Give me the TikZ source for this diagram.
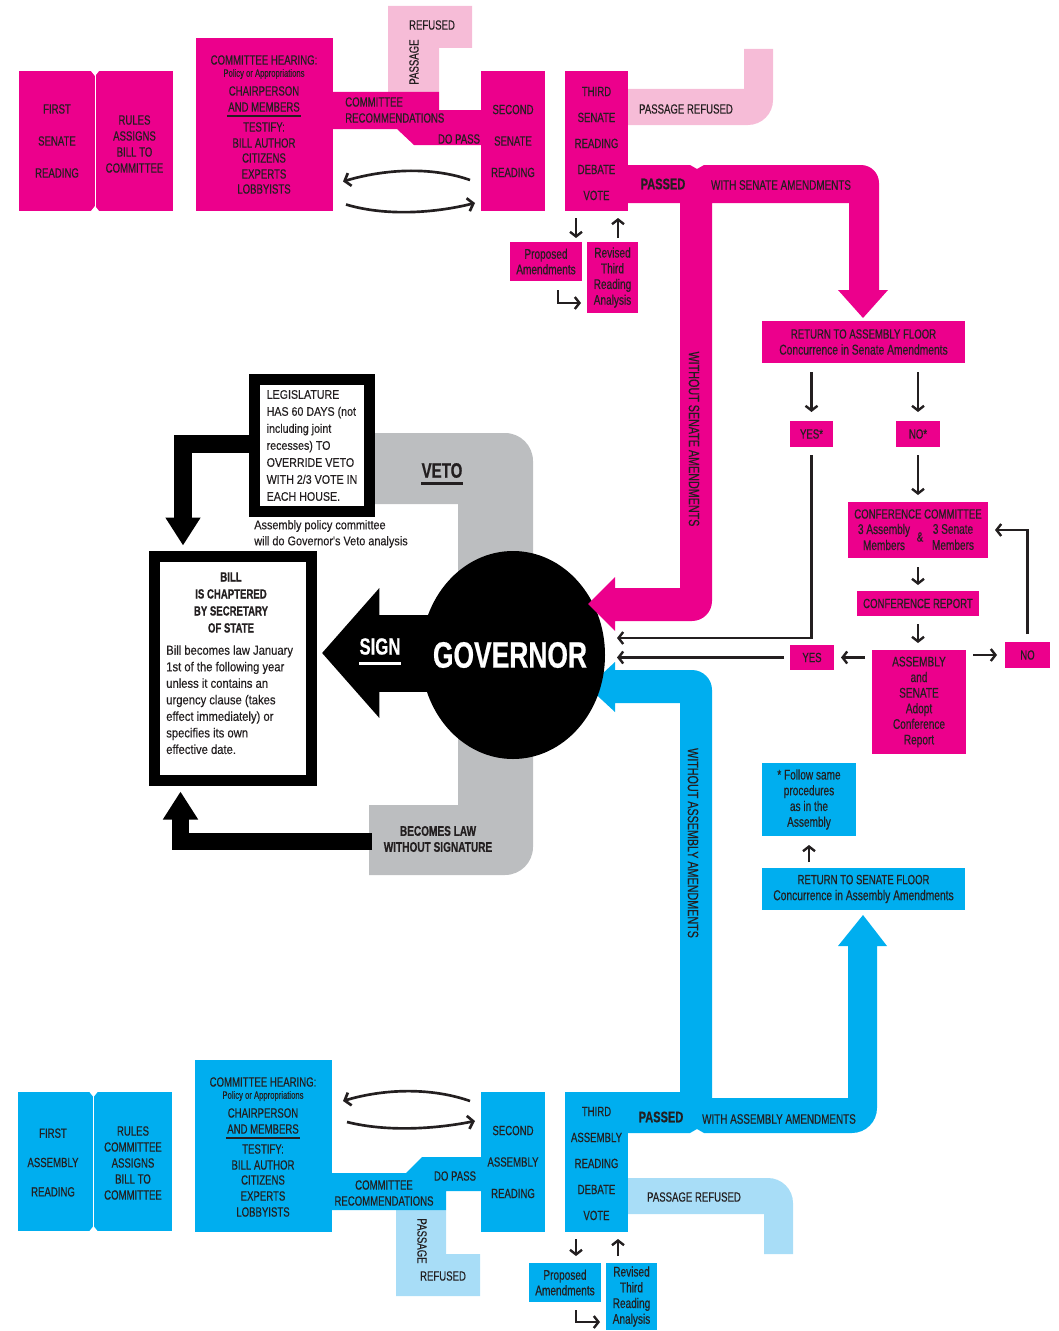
\documentclass[tikz,border=0pt]{standalone}
\usepackage{fontspec}
\setmainfont{Liberation Sans}[FakeStretch=0.72, UprightFeatures={FakeBold=0.35}, BoldFeatures={FakeBold=0.6}]
\newfontfamily\cw{Liberation Sans}[FakeStretch=0.86, UprightFeatures={FakeBold=0.3}]
\usetikzlibrary{arrows.meta,calc,shapes.geometric}
\definecolor{mag}{HTML}{EC008C}
\definecolor{lpink}{HTML}{F6BCD7}
\definecolor{cya}{HTML}{00AEEF}
\definecolor{lblue}{HTML}{A8DDF7}
\definecolor{vgray}{HTML}{BCBEC0}
\definecolor{ink}{HTML}{231F20}
\newcommand\fz[2]{\fontsize{#1}{#2}\selectfont}
\pgfdeclarelayer{bg}
\pgfsetlayers{bg,main}
\tikzset{
  box/.style={inner sep=0pt, outer sep=0pt, align=center, text=ink, font=\fz{10}{12}},
  mb/.style={box, fill=mag},
  cb/.style={box, fill=cya},
  sz/.style 2 args={minimum width=#1*0.75pt, minimum height=#2*0.75pt},
  tx/.style={inner sep=0pt, text=ink, font=\fz{10}{12}},
  sm/.style={inner sep=0pt, text=ink, font=\fz{8}{9}},
  arr/.style={draw=ink, line width=1.8pt, -{Straight Barb[length=3.5pt,width=9pt]}},
  carr/.style={draw=ink, line width=2pt, -{Straight Barb[length=4pt,width=10pt]}},
  blk/.style={draw=black, line width=13pt, -{Triangle[width=25pt,length=21pt]}},
  frame/.style={draw=black, line width=8.25pt, fill=white, inner sep=0pt},
}
\begin{document}
\begin{tikzpicture}[x=0.75pt,y=-0.75pt]
\useasboundingbox (0,0) rectangle (1059,1331);

% ---------- background layer shapes ----------
\begin{pgfonlayer}{bg}
\fill[vgray] (360,433) -- (505,433) arc[start angle=-90,end angle=0,radius=28]
  -- (533,847) arc[start angle=0,end angle=90,radius=28] -- (369,875) -- (369,805)
  -- (458,805) -- (458,504) -- (360,504) -- cycle;
\fill[cya] (628,1133) -- (690,1133) -- (697,1129) -- (704,1133) -- (852,1133)
  arc[start angle=90,end angle=0,radius=25] -- (877,946) -- (887,946) -- (863,915)
  -- (838,946) -- (848,946) -- (848,1098) -- (712,1098) -- (712,690)
  arc[start angle=0,end angle=-90,radius=20] -- (615,670) -- (615,662) -- (588,687)
  -- (615,712) -- (615,703) -- (680,703) -- (680,1092) -- (628,1092) -- cycle;
\end{pgfonlayer}

% ---------- governor ----------
\node[ellipse, fill=black, sz={184}{208}, inner sep=0pt] (gov) at (513,655) {};

% magenta passed band
\fill[mag] (628,165) -- (690,165) -- (697,169) -- (704,165) -- (861,165)
  arc[start angle=-90,end angle=0,radius=18] -- (879,290) -- (888,290) -- (863,318)
  -- (838,290) -- (849,290) -- (849,203) -- (712,203) -- (712,601)
  arc[start angle=0,end angle=90,radius=20] -- (615,621) -- (615,631) -- (588,604)
  -- (615,577) -- (615,588) -- (680,588) -- (680,203) -- (628,203) -- cycle;

% light bands
\fill[lpink] (628,89) -- (744,89) -- (744,49) -- (773,49) -- (773,100)
  arc[start angle=0,end angle=90,radius=25] -- (628,125) -- cycle;
\fill[lblue] (628,1214) -- (764,1214) -- (764,1254) -- (793,1254) -- (793,1203)
  arc[start angle=0,end angle=-90,radius=25] -- (628,1178) -- cycle;
\fill[lpink] (388,6) -- (472,6) -- (472,48) -- (439,48) -- (439,92) -- (388,92) -- cycle;
\fill[mag] (333,92) -- (439,92) -- (439,110) -- (481,110) -- (481,145) -- (414,145)
  -- (397,129) -- (333,129) -- cycle;
\fill[lblue] (396,1210) -- (446,1210) -- (446,1254) -- (480,1254) -- (480,1296)
  -- (396,1296) -- cycle;
\fill[cya] (332,1173) -- (406,1173) -- (422,1157) -- (481,1157) -- (481,1191)
  -- (446,1191) -- (446,1210) -- (332,1210) -- cycle;

% ---------- senate (top) ----------
\node[mb,sz={76}{140},font=\fz{10}{24}] (fsr) at (57,141) {FIRST\\SENATE\\READING};
\node[mb,sz={77}{140}] (rsn) at (134.5,141) {};
\node[box] (rsnt) at (134.5,144) {RULES\\ASSIGNS\\BILL TO\\COMMITTEE};
\fill[white] (91,71) -- (99,71) -- (95,76) -- cycle;
\fill[white] (91,211) -- (99,211) -- (95,206) -- cycle;
\node[mb,sz={137}{173}] (chs) at (264.5,124.5) {};
\node[tx] (ch1) at (264,60) {COMMITTEE HEARING:};
\node[sm] (ch2) at (264,74) {Policy or Appropriations};
\node[tx] (ch3) at (264,91) {CHAIRPERSON};
\node[tx] (ch4) at (264,107) {AND MEMBERS};
\draw[ink, line width=1.8pt] ($(ch4.south west)+(-1,4)$) -- ($(ch4.south east)+(1,4)$);
\node[tx] (ch5) at (264,127) {TESTIFY:};
\node[tx] (ch6) at (264,143) {BILL AUTHOR};
\node[tx] (ch7) at (264,158) {CITIZENS};
\node[tx] (ch8) at (264,174) {EXPERTS};
\node[tx] (ch9) at (264,189) {LOBBYISTS};
\node[tx,anchor=west] (cr1) at (345,102) {COMMITTEE};
\node[tx,anchor=west] (cr2) at (345,118) {RECOMMENDATIONS};
\node[tx] (dp1) at (459,139) {DO PASS};
\node[tx] (rf1) at (432,25) {REFUSED};
\node[tx,rotate=90] (ps1) at (414,62) {PASSAGE};
\node[mb,sz={64}{140},font=\fz{10}{23.6}] (sr2) at (513,141) {SECOND\\SENATE\\READING};
\node[mb,sz={63}{140}] (tr3) at (596.5,141) {};
\node[box,font=\fz{10}{19.5}] (tr3t) at (596.5,143.5) {THIRD\\SENATE\\READING\\DEBATE\\VOTE};
\node[mb,sz={72}{39},font=\fz{10.5}{11.6}] (pa) at (546,261.5) {Proposed\\Amendments};
\node[mb,sz={51}{71},font=\fz{10.5}{11.8}] (rv) at (612.5,277.5) {Revised\\Third\\Reading\\Analysis};
\node[tx] (prs) at (686,109) {PASSAGE REFUSED};
\node[tx,font=\bfseries\fz{11.5}{12}] (psd) at (663,184) {PASSED};
\node[tx,font=\fz{10.3}{12}] (wsa) at (781,185) {WITH SENATE AMENDMENTS};
\node[tx,rotate=-90,font=\fz{11.2}{12}] (wos) at (694,439) {WITHOUT SENATE AMENDMENTS};

\draw[carr] ($(sr2.west)+(-11,39)$) .. controls +(-40,-14) and +(40,-12) .. ($(chs.east)+(10,57)$);
\draw[carr] ($(chs.east)+(13,80)$) .. controls +(40,12) and +(-40,10) .. ($(sr2.west)+(-6,62)$);
\draw[arr] ($(tr3.south)+(-20.5,7)$) -- ($(pa.north)+(30,-4)$);
\draw[arr] ($(rv.north)+(5.5,-4)$) -- ($(tr3.south)+(21.5,7)$);
\draw[arr] ($(pa.south)+(12,9)$) |- ($(rv.west)+(-6,25.5)$);

% ---------- right side ----------
\node[mb,sz={203}{42}] (raf) at (863.5,342) {RETURN TO ASSEMBLY FLOOR\\{\fz{10.7}{12}Concurrence in Senate Amendments}};
\node[mb,sz={43}{26}] (yesS) at (811.5,434) {YES*};
\node[mb,sz={44}{26}] (noS) at (918,434) {NO*};
\node[mb,sz={140}{56}] (cc) at (918,530) {};
\node[tx] (cc1) at (918,514) {CONFERENCE COMMITTEE};
\node[tx,font=\fz{10.5}{12},align=center] (cc2) at (884,537) {3 Assembly\\Members};
\node[tx] (cc3) at (920,537) {\&};
\node[tx,font=\fz{10.5}{12},align=center] (cc4) at (953,537) {3 Senate\\Members};
\node[mb,sz={122}{25}] (cr) at (918,603.5) {CONFERENCE REPORT};
\node[mb,sz={94}{104},font=\fz{10.5}{11.7}] (asa) at (919,702) {ASSEMBLY\\and\\SENATE\\Adopt\\Conference\\Report};
\node[mb,sz={44}{25}] (yes) at (812,657.5) {YES};
\node[mb,sz={45}{26}] (no) at (1027.5,655) {NO};
\node[cb,sz={94}{73},font=\fz{10.5}{11.8}] (fsp) at (809,799.5) {* Follow same\\procedures\\as in the\\Assembly};
\node[cb,sz={203}{42}] (rsf) at (863.5,889) {RETURN TO SENATE FLOOR\\{\fz{10.7}{12}Concurrence in Assembly Amendments}};

\coordinate (g1) at (617,638);
\coordinate (g2) at (617,657.5);
\draw[arr] ($(raf.south-|yesS)+(0,9)$) -- ($(yesS.north)+(0,-9)$);
\draw[arr] ($(raf.south-|noS)+(0,9)$) -- ($(noS.north)+(0,-9)$);
\draw[arr] ($(noS.south)+(0,8)$) -- ($(cc.north)+(0,-7)$);
\draw[arr] ($(cc.south)+(0,9)$) -- ($(cr.north)+(0,-6)$);
\draw[arr] ($(cr.south)+(0,8)$) -- ($(asa.north-|cr)+(0,-7)$);
\draw[arr] ($(yesS.south)+(0,8)$) |- (g1);
\draw[arr] ($(yes.west)+(-6,0)$) -- (g2);
\draw[arr] ($(asa.west|-yes)+(-7,0)$) -- ($(yes.east)+(7,0)$);
\draw[arr] ($(asa.east|-no)+(7,0)$) -- ($(no.west)+(-8,0)$);
\draw[arr] ($(no.north)+(0,-8)$) |- ($(cc.east)+(7,0)$);
\draw[arr] ($(rsf.north-|fsp)+(0,-6)$) -- ($(fsp.south)+(0,9)$);

% ---------- governor area ----------
\node[frame,sz={115}{132},align=left,text=ink,font=\cw\fz{9.3}{12.75}] (leg) at (312,445.5)
  {LEGISLATURE\\HAS 60 DAYS (not\\including joint\\recesses) TO\\OVERRIDE VETO\\WITH 2/3 VOTE IN\\EACH HOUSE.};
\node[frame,sz={157}{224}] (bill) at (233,668.5) {};
\node[tx,font=\bfseries\fz{10}{12.75},align=center] (bt) at (231,602.5) {BILL\\IS CHAPTERED\\BY SECRETARY\\OF STATE};
\node[inner sep=0pt,anchor=north west,align=left,text=ink,font=\cw\fz{9.8}{12.4}] (bp) at (166,645)
  {Bill becomes law January\\1st of the following year\\unless it contains an\\urgency clause (takes\\effect immediately) or\\specifies its own\\effective date.};
\node[tx,font=\cw\fz{9.5}{12},align=left,anchor=west] (apc) at (254,534) {Assembly policy committee\\will do Governor's Veto analysis};
\node[tx,font=\bfseries\fz{15.7}{18}] (veto) at (442,470.5) {VETO};
\draw[ink, line width=2pt] ($(veto.south west)+(0,5.5)$) -- ($(veto.south east)+(0,5.5)$);
\node[tx,font=\bfseries\fz{10.5}{12},align=center] (bl) at (438,839) {BECOMES LAW\\WITHOUT SIGNATURE};
\coordinate (blst) at (372,841.5);

\draw[black, line width=57.75pt, -{Triangle[width=95pt,length=43pt]}] ($(gov.west)+(20,-2)$) -- ($(bill.east)+(5,-15.5)$);
\node[tx,font=\bfseries\fz{17.5}{18},text=white] (sign) at (380,646.5) {SIGN};
\draw[white, line width=2.2pt] ($(sign.south west)+(0,8)$) -- ($(sign.south east)+(0,8)$);
\node[inner sep=0pt,text=white,font=\bfseries\fz{27.5}{30}] (govt) at (510,655) {GOVERNOR};

\draw[blk] ($(leg.west)+(0,-1.5)$) -| ($(bill.north west)+(34,-5.5)$);
\draw[blk] (blst) -| ($(bill.south west)+(31.5,5.5)$);

% ---------- assembly (bottom) ----------
\node[cb,sz={75}{139}] (far) at (55.5,1161.5) {};
\node[box,font=\fz{10}{22}] (fart) at (53,1162.5) {FIRST\\ASSEMBLY\\READING};
\node[cb,sz={78}{139}] (rca) at (133,1161.5) {};
\node[box] (rcat) at (133,1163) {RULES\\COMMITTEE\\ASSIGNS\\BILL TO\\COMMITTEE};
\fill[white] (89.5,1092) -- (97.5,1092) -- (93.5,1097) -- cycle;
\fill[white] (89.5,1231) -- (97.5,1231) -- (93.5,1226) -- cycle;
\node[cb,sz={137}{172}] (cha) at (263.5,1146) {};
\node[tx] (ca1) at (263,1082) {COMMITTEE HEARING:};
\node[sm] (ca2) at (263,1096) {Policy or Appropriations};
\node[tx] (ca3) at (263,1113) {CHAIRPERSON};
\node[tx] (ca4) at (263,1129) {AND MEMBERS};
\draw[ink, line width=1.8pt] ($(ca4.south west)+(-1,4)$) -- ($(ca4.south east)+(1,4)$);
\node[tx] (ca5) at (263,1149) {TESTIFY:};
\node[tx] (ca6) at (263,1165) {BILL AUTHOR};
\node[tx] (ca7) at (263,1180) {CITIZENS};
\node[tx] (ca8) at (263,1196) {EXPERTS};
\node[tx] (ca9) at (263,1212) {LOBBYISTS};
\node[tx] (cr3) at (384,1185) {COMMITTEE};
\node[tx] (cr4) at (384,1201) {RECOMMENDATIONS};
\node[tx] (dp2) at (455,1176) {DO PASS};
\node[tx,rotate=-90] (ps2) at (422,1241) {PASSAGE};
\node[tx] (rf2) at (443,1276) {REFUSED};
\node[cb,sz={64}{140},font=\fz{10}{23.6}] (sa2) at (513,1162) {SECOND\\ASSEMBLY\\READING};
\node[cb,sz={63}{140}] (ta3) at (596.5,1162) {};
\node[box,font=\fz{10}{19.5}] (ta3t) at (596.5,1163.5) {THIRD\\ASSEMBLY\\READING\\DEBATE\\VOTE};
\node[cb,sz={72}{39},font=\fz{10.5}{11.6}] (pa2) at (565,1282.5) {Proposed\\Amendments};
\node[cb,sz={51}{67},font=\fz{10.5}{11.8}] (rv2) at (631.5,1296.5) {Revised\\Third\\Reading\\Analysis};
\node[tx] (prs2) at (694,1197) {PASSAGE REFUSED};
\node[tx,font=\bfseries\fz{11.5}{12}] (psd2) at (661,1117) {PASSED};
\node[tx,font=\fz{10.3}{12}] (wsa2) at (779,1119) {WITH ASSEMBLY AMENDMENTS};
\node[tx,rotate=-90,font=\fz{11.2}{12}] (wos2) at (693,843) {WITHOUT ASSEMBLY AMENDMENTS};

\draw[carr] ($(sa2.west)+(-11,-61)$) .. controls +(-40,-14) and +(40,-12) .. ($(cha.east)+(11,-45)$);
\draw[carr] ($(cha.east)+(15,-24)$) .. controls +(40,10) and +(-40,8) .. ($(sa2.west)+(-6,-41)$);
\draw[arr] ($(ta3.south)+(-20.5,7)$) -- ($(pa2.north)+(11,-7)$);
\draw[arr] ($(rv2.north)+(-13.5,-7)$) -- ($(ta3.south)+(21.5,7)$);
\draw[arr] ($(pa2.south)+(11,8)$) |- ($(rv2.west)+(-6,25.5)$);
\end{tikzpicture}
\end{document}
